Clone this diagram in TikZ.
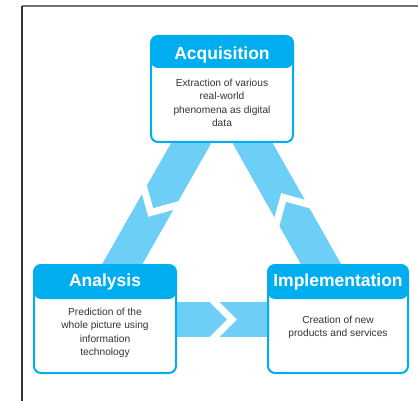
\documentclass[tikz,border=0pt]{standalone}
\usepackage{fontspec}
\setmainfont{Liberation Sans}
\usetikzlibrary{calc}
\definecolor{hdr}{HTML}{00AEEF}
\definecolor{bandc}{HTML}{6DCFF6}
\definecolor{txt}{HTML}{333333}
\pgfdeclarelayer{background}
\pgfsetlayers{background,main}
\begin{document}
\begin{tikzpicture}[x=1pt,y=-1pt,
  box/.style={draw=hdr, line width=2pt, fill=white, rounded corners=7pt, inner sep=0pt},
  hbox/.style={path picture={\fill[hdr] (path picture bounding box.north west) rectangle ([yshift=-#1]path picture bounding box.north east);}},
  titletext/.style={text=white, font=\fontsize{17.5}{20}\selectfont\bfseries, inner sep=0pt, anchor=base},
  bodytext/.style={text=txt, font=\fontsize{10.2}{13.3}\selectfont, align=center, inner sep=0pt},
  bandline/.style={draw=bandc, line width=35pt},
  chev/.style={draw=white, line width=7pt, line join=miter, line cap=butt},
  frameline/.style={line width=1.2pt}]
\useasboundingbox (0,0) rectangle (418,401);
\draw[frameline, draw=black!55] (22,6) -- (418,6);
\draw[frameline, draw=black!80] (22,6) -- (22,401);

\node[box, minimum width=142pt, minimum height=106pt, hbox=32pt] (acq) at (222,89) {};
\node[box, minimum width=142pt, minimum height=108pt, hbox=34pt] (ana) at (105,319) {};
\node[box, minimum width=140pt, minimum height=108pt, hbox=34pt] (imp) at (338,319) {};

\node[titletext] (acqT) at (222,59.3) {Acquisition};
\node[titletext] (anaT) at (105,286.7) {Analysis};
\node[titletext] (impT) at (338,286.7) {Implementation};

\node[bodytext] (acqB) at (222,103) {Extraction of various\\real-world\\phenomena as digital\\data};
\node[bodytext] (anaB) at (105,333) {Prediction of the\\whole picture using\\information\\technology};
\node[bodytext] (impB) at (338,327.3) {Creation of new\\products and services};

\begin{pgfonlayer}{background}
\draw[bandline] (acq.center) -- ($(ana.center)+(-14,0)$);
\draw[bandline] (acq.center) -- ($(imp.center)+(14,0)$);
\draw[bandline] (ana.center) -- (imp.center);
\draw[chev] (183.4,203.5) -- (150.7,212.5) -- (141.7,179.8);
\draw[chev] (316.3,206.5) -- (283.6,197.5) -- (274.6,230.2);
\draw[chev] (208,295.5) -- (232,319.5) -- (208,343.5);
\end{pgfonlayer}
\end{tikzpicture}
\end{document}
